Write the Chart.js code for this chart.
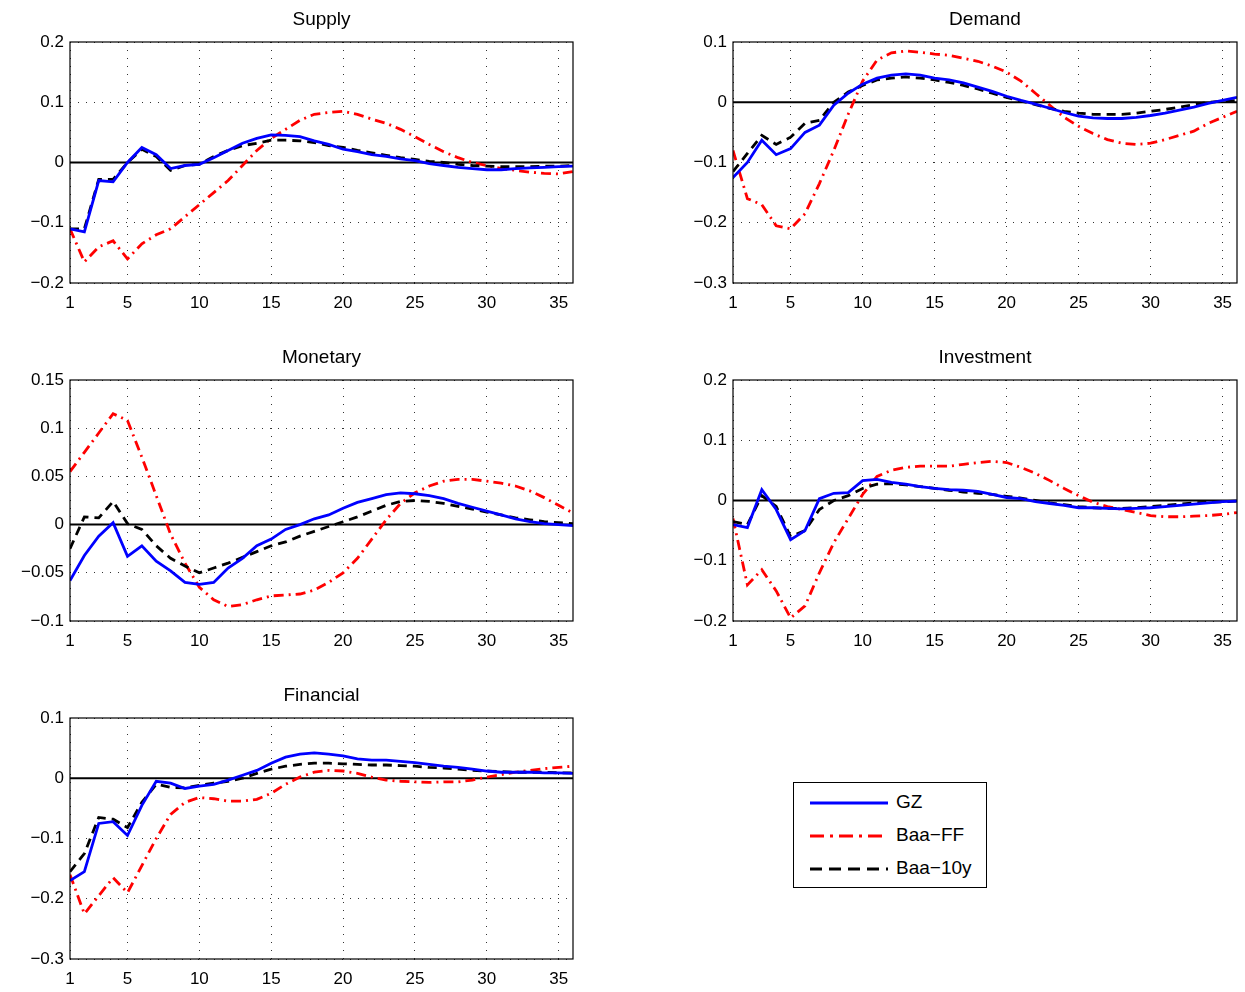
<!DOCTYPE html>
<html><head><meta charset="utf-8">
<script src="https://cdn.jsdelivr.net/npm/chart.js@4"></script>
<style>
body{margin:0;background:#fff;width:1245px;height:992px;position:relative;overflow:hidden;font-family:"Liberation Sans",Arial,sans-serif}
canvas{position:absolute}
#legend{position:absolute;left:793px;top:782px;width:192px;height:104px;border:1.3px solid #000;background:#fff;font-size:19px}
.row{position:absolute;left:14px;height:20px;width:180px}
.row span{position:absolute;left:88px;top:-2px}
.row svg{position:absolute;left:0;top:0}
</style></head><body>
<div id="legend">
<div class="row" style="top:10px"><svg width="80" height="20"><line x1="2" y1="10" x2="80" y2="10" stroke="#0000ff" stroke-width="3"/></svg><span>GZ</span></div>
<div class="row" style="top:43px"><svg width="80" height="20"><line x1="2" y1="10" x2="80" y2="10" stroke="#ff0000" stroke-width="3" stroke-dasharray="14,6,3,6"/></svg><span>Baa−FF</span></div>
<div class="row" style="top:76px"><svg width="80" height="20"><line x1="2" y1="10" x2="80" y2="10" stroke="#000" stroke-width="3" stroke-dasharray="12,7"/></svg><span>Baa−10y</span></div>
</div>
<script>
const horizon = Array.from({length:36},(_,i)=>i+1);
const xTicks = [1,5,10,15,20,25,30,35];

const supplyGZ=[-0.11,-0.115,-0.03,-0.032,0,0.025,0.013,-0.01,-0.005,-0.003,0.008,0.02,0.032,0.04,0.046,0.045,0.043,0.036,0.03,0.022,0.018,0.013,0.01,0.006,0.003,-0.002,-0.005,-0.008,-0.01,-0.012,-0.012,-0.01,-0.009,-0.008,-0.007,-0.006];
const supplyFF=[-0.11,-0.165,-0.14,-0.13,-0.16,-0.135,-0.12,-0.11,-0.09,-0.07,-0.05,-0.03,-0.005,0.02,0.04,0.055,0.07,0.08,0.083,0.085,0.08,0.072,0.065,0.055,0.043,0.03,0.018,0.008,0,-0.005,-0.01,-0.013,-0.016,-0.018,-0.019,-0.015];
const supply10=[-0.11,-0.11,-0.028,-0.028,0,0.022,0.01,-0.013,-0.005,-0.003,0.01,0.02,0.028,0.032,0.037,0.037,0.036,0.033,0.028,0.025,0.02,0.016,0.012,0.008,0.005,0.002,0,-0.003,-0.005,-0.006,-0.007,-0.007,-0.007,-0.006,-0.006,-0.005];

const demandGZ=[-0.125,-0.1,-0.063,-0.087,-0.077,-0.05,-0.038,-0.005,0.015,0.03,0.04,0.045,0.047,0.045,0.04,0.037,0.032,0.025,0.018,0.01,0.003,-0.003,-0.01,-0.017,-0.023,-0.026,-0.027,-0.027,-0.025,-0.022,-0.018,-0.013,-0.008,-0.002,0.003,0.008];
const demandFF=[-0.08,-0.16,-0.17,-0.205,-0.21,-0.185,-0.135,-0.08,-0.02,0.035,0.07,0.082,0.085,0.083,0.08,0.078,0.073,0.068,0.06,0.05,0.035,0.015,-0.005,-0.025,-0.04,-0.052,-0.062,-0.068,-0.07,-0.068,-0.062,-0.055,-0.048,-0.035,-0.025,-0.015];
const demand10=[-0.115,-0.085,-0.055,-0.07,-0.058,-0.035,-0.03,0,0.017,0.028,0.037,0.04,0.042,0.04,0.037,0.033,0.028,0.022,0.015,0.008,0.002,-0.004,-0.01,-0.015,-0.018,-0.02,-0.02,-0.02,-0.018,-0.015,-0.012,-0.008,-0.004,0,0.002,0.003];

const monetaryGZ=[-0.058,-0.032,-0.012,0.002,-0.033,-0.022,-0.038,-0.048,-0.06,-0.062,-0.06,-0.045,-0.035,-0.022,-0.015,-0.005,0,0.006,0.01,0.017,0.023,0.027,0.031,0.033,0.032,0.03,0.027,0.022,0.018,0.014,0.01,0.006,0.003,0.001,0,-0.001];
const monetaryFF=[0.055,0.075,0.095,0.115,0.108,0.07,0.03,-0.01,-0.04,-0.065,-0.078,-0.085,-0.083,-0.078,-0.074,-0.073,-0.072,-0.068,-0.06,-0.05,-0.035,-0.015,0.005,0.022,0.033,0.04,0.045,0.047,0.047,0.045,0.043,0.04,0.035,0.028,0.02,0.012];
const monetary10=[-0.025,0.008,0.007,0.024,0.001,-0.005,-0.022,-0.035,-0.043,-0.05,-0.045,-0.04,-0.034,-0.028,-0.022,-0.018,-0.012,-0.007,-0.002,0.003,0.008,0.014,0.02,0.024,0.025,0.024,0.022,0.019,0.016,0.013,0.01,0.007,0.005,0.003,0.002,0.001];

const investGZ=[-0.04,-0.045,0.018,-0.015,-0.065,-0.05,0.003,0.012,0.013,0.033,0.035,0.03,0.027,0.023,0.02,0.018,0.017,0.015,0.01,0.005,0.003,-0.002,-0.005,-0.008,-0.012,-0.012,-0.013,-0.014,-0.013,-0.012,-0.01,-0.008,-0.006,-0.004,-0.002,-0.001];
const investFF=[-0.03,-0.14,-0.115,-0.15,-0.195,-0.175,-0.12,-0.07,-0.03,0.01,0.04,0.05,0.055,0.057,0.057,0.057,0.06,0.063,0.065,0.063,0.055,0.045,0.033,0.02,0.008,-0.003,-0.01,-0.015,-0.02,-0.025,-0.027,-0.027,-0.026,-0.025,-0.023,-0.02];
const invest10=[-0.035,-0.04,0.008,-0.01,-0.06,-0.05,-0.015,0,0.008,0.02,0.027,0.028,0.026,0.023,0.02,0.017,0.014,0.012,0.01,0.007,0.004,0,-0.004,-0.007,-0.01,-0.012,-0.013,-0.013,-0.012,-0.01,-0.008,-0.006,-0.004,-0.003,-0.002,-0.001];

const finGZ=[-0.17,-0.155,-0.075,-0.072,-0.095,-0.045,-0.005,-0.008,-0.017,-0.013,-0.01,-0.003,0.005,0.013,0.025,0.035,0.04,0.042,0.04,0.037,0.032,0.03,0.03,0.028,0.026,0.023,0.02,0.018,0.015,0.012,0.01,0.01,0.01,0.009,0.009,0.008];
const finFF=[-0.16,-0.225,-0.195,-0.165,-0.19,-0.145,-0.1,-0.06,-0.04,-0.032,-0.034,-0.038,-0.038,-0.035,-0.025,-0.01,0.002,0.01,0.013,0.012,0.008,0.002,-0.003,-0.005,-0.006,-0.007,-0.006,-0.006,-0.003,0.002,0.006,0.01,0.013,0.016,0.018,0.02];
const fin10=[-0.155,-0.125,-0.065,-0.068,-0.082,-0.04,-0.01,-0.015,-0.016,-0.012,-0.008,-0.005,0,0.008,0.015,0.02,0.023,0.025,0.025,0.024,0.023,0.022,0.022,0.021,0.02,0.018,0.017,0.015,0.013,0.012,0.011,0.01,0.01,0.01,0.009,0.009];

const panels=[
 {title:'Supply',l:70,t:42,w:503,min:-0.2,max:0.2,step:0.1,d:[supplyGZ,supplyFF,supply10]},
 {title:'Demand',l:733,t:42,w:504,min:-0.3,max:0.1,step:0.1,d:[demandGZ,demandFF,demand10]},
 {title:'Monetary',l:70,t:380,w:503,min:-0.1,max:0.15,step:0.05,d:[monetaryGZ,monetaryFF,monetary10]},
 {title:'Investment',l:733,t:380,w:504,min:-0.2,max:0.2,step:0.1,d:[investGZ,investFF,invest10]},
 {title:'Financial',l:70,t:718,w:503,min:-0.3,max:0.1,step:0.1,d:[finGZ,finFF,fin10]},
];
const H=241, PADL=65, PADT=36, PADB=32, PADR=8;
function fmt(v){ if(Math.abs(v)<1e-9) return '0'; let s=String(Math.round(v*1000)/1000); return s.replace('-','\u2212'); }
const font={family:'"Liberation Sans", Arial, sans-serif',size:17};

panels.forEach(p=>{
  const c=document.createElement('canvas');
  const cw=p.w+PADL+PADR, ch=H+PADT+PADB;
  c.width=cw;c.height=ch;c.style.left=(p.l-PADL)+'px';c.style.top=(p.t-PADT)+'px';
  c.style.width=cw+'px';c.style.height=ch+'px';
  document.body.appendChild(c);
  const frame={id:'frame',
    beforeDatasetsDraw(ch2){const {ctx,chartArea:a,scales}=ch2;ctx.save();
      const y0=scales.y.getPixelForValue(0);ctx.strokeStyle='#000';ctx.lineWidth=2;ctx.beginPath();ctx.moveTo(a.left,y0);ctx.lineTo(a.right,y0);ctx.stroke();ctx.restore();},
    afterDraw(ch2){const {ctx,chartArea:a}=ch2;ctx.save();ctx.strokeStyle='#000';ctx.lineWidth=1.2;ctx.strokeRect(a.left,a.top,a.right-a.left,a.bottom-a.top);
      ctx.fillStyle='#000';ctx.font='19px "Liberation Sans", Arial, sans-serif';ctx.textAlign='center';ctx.textBaseline='bottom';
      ctx.fillText(p.title,(a.left+a.right)/2,a.top-13);ctx.restore();}};
  new Chart(c,{type:'line',
    data:{labels:horizon,datasets:[
      {label:'GZ',data:p.d[0],borderColor:'#0000ff',borderWidth:2.8,order:1},
      {label:'Baa-FF',data:p.d[1],borderColor:'#ff0000',borderWidth:2.8,borderDash:[10,5,2,5],order:3},
      {label:'Baa-10y',data:p.d[2],borderColor:'#000',borderWidth:2.8,borderDash:[9,6],order:2}]},
    options:{responsive:false,animation:false,devicePixelRatio:1,
      layout:{padding:{top:PADT,right:PADR,left:0,bottom:0}},
      elements:{point:{radius:0},line:{tension:0}},
      plugins:{legend:{display:false},tooltip:{enabled:false}},
      scales:{
        x:{type:'linear',min:1,max:36,
          afterBuildTicks:s=>{s.ticks=xTicks.map(v=>({value:v}));},
          afterFit:s=>{s.height=PADB;},
          ticks:{color:'#000',font,padding:10,maxRotation:0,autoSkip:false},
          grid:{color:'#333',lineWidth:1,drawTicks:false},border:{display:false,dash:[1,7]}},
        y:{min:p.min,max:p.max,
          afterBuildTicks:s=>{const t=[];for(let v=p.min;v<=p.max+1e-9;v+=p.step)t.push({value:Math.round(v*1000)/1000});s.ticks=t;},
          afterFit:s=>{s.width=PADL;},
          ticks:{color:'#000',font,padding:6,callback:v=>fmt(v)},
          grid:{color:'#333',lineWidth:1,drawTicks:false},border:{display:false,dash:[1,7]}}
      }},
    plugins:[frame]});
});
</script>
</body></html>
